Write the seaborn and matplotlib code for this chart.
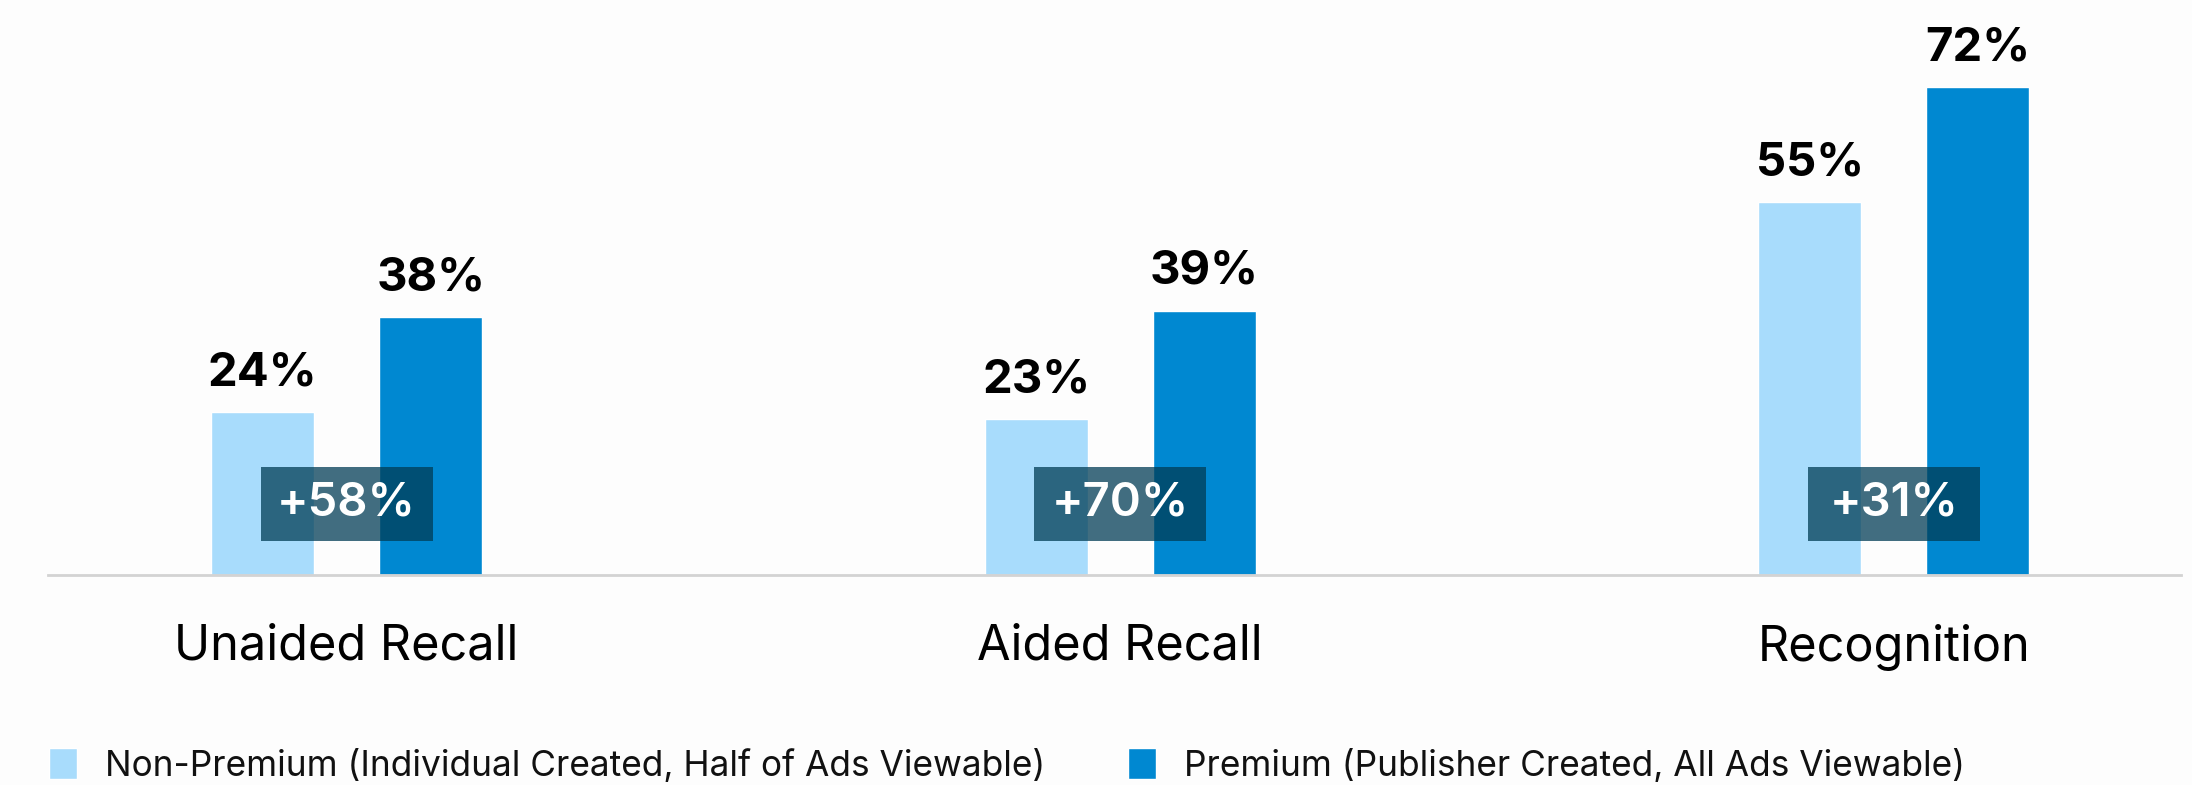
import matplotlib
matplotlib.use("Agg")
import matplotlib.pyplot as plt
import seaborn as sns
import pandas as pd
from matplotlib.patches import Rectangle

# ---- data ----
categories = ["Unaided Recall", "Aided Recall", "Recognition"]
series_names = [
    "Non-Premium (Individual Created, Half of Ads Viewable)",
    "Premium (Publisher Created, All Ads Viewable)",
]
non_premium = [24, 23, 55]
premium = [38, 39, 72]
lift_labels = ["+58%", "+70%", "+31%"]
colors = ["#A8DCFC", "#0088D1"]

sns.set_theme(style="white")
plt.rcParams["font.family"] = ["Inter", "DejaVu Sans"]

df = pd.DataFrame({
    "Category": categories * 2,
    "Value": non_premium + premium,
    "Series": [series_names[0]] * len(categories) + [series_names[1]] * len(categories),
})

W, H = 2192, 785
fig = plt.figure(figsize=(W / 100, H / 100), dpi=100)
fig.patch.set_facecolor("#fdfdfd")
ax = fig.add_axes([48 / W, 1 - 575 / H, (2181 - 48) / W, 575 / H])
ax.set_facecolor("none")

sns.barplot(
    data=df, x="Category", y="Value", hue="Series", order=categories,
    hue_order=series_names, palette=colors, saturation=1,
    width=0.4344, gap=0.387, ax=ax, errorbar=None,
)

ax.set_xlim(-0.386, 2.371)
ax.set_ylim(0, 84.8)

for cont in ax.containers:
    ax.bar_label(cont, labels=[f"{int(v)}%" for v in cont.datavalues],
                 padding=12, fontsize=34, fontweight="bold", color="black")

# lift boxes
box_w = 0.2224
for i, lab in enumerate(lift_labels):
    ax.add_patch(Rectangle((i - box_w / 2, 5.06), box_w, 10.87,
                           facecolor="#003C55", alpha=0.745, edgecolor="none", zorder=5))
    ax.text(i, 10.5, lab, ha="center", va="center", color="white",
            fontsize=34, fontweight="semibold", zorder=6)

for s in ["left", "right", "top"]:
    ax.spines[s].set_visible(False)
ax.spines["bottom"].set_color("#d3d3d3")
ax.spines["bottom"].set_linewidth(2.0)
ax.set_xlabel("")
ax.set_ylabel("")
ax.set_yticks([])
ax.tick_params(axis="x", length=0, pad=35, labelsize=35, labelcolor="black")

handles, labels = ax.get_legend_handles_labels()
if ax.get_legend() is not None:
    ax.get_legend().remove()
fig.legend(handles, labels, loc="center left", bbox_to_anchor=(49 / W, (H - 765.5) / H),
           ncol=2, frameon=False, fontsize=25.4, handlelength=0.79, handleheight=0.95,
           handletextpad=0.8, columnspacing=2.34, borderpad=0, borderaxespad=0,
           labelcolor="#111111")

fig.savefig("out.png", dpi=100, facecolor=fig.get_facecolor())
